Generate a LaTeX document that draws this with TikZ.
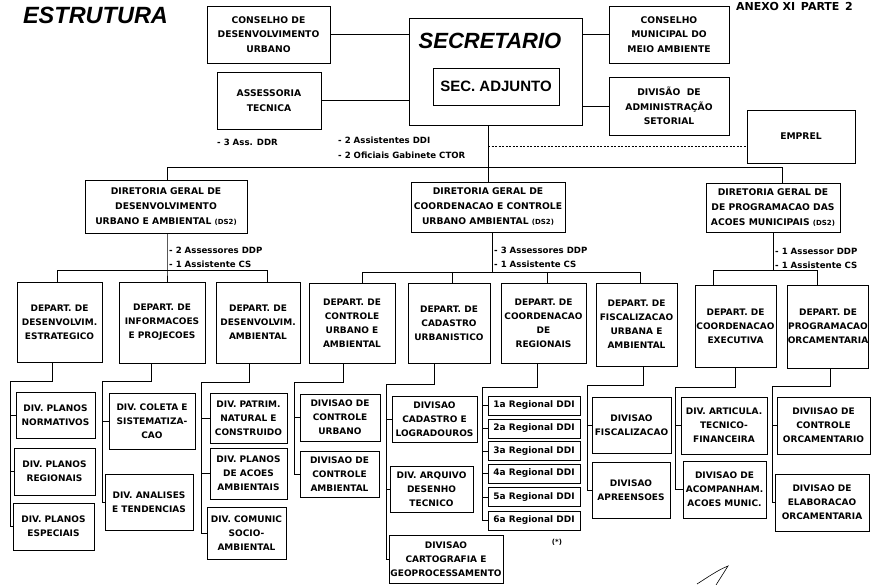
\documentclass[tikz,border=0pt]{standalone}
\usepackage{fontspec}
\setmainfont{DejaVu Sans}
\newfontfamily\TitleFam{Liberation Sans}
\newcommand\FBody{\fontsize{9}{14}\selectfont\bfseries}
\newcommand\FDir{\fontsize{9.2}{15}\selectfont\bfseries}
\newcommand\FTop{\fontsize{9.2}{14.5}\selectfont\bfseries}
\newcommand\FLbl{\fontsize{8.6}{10}\selectfont\bfseries}
\newcommand\FReg{\fontsize{9}{10}\selectfont\bfseries}
\tikzset{
  bx/.style={draw, line width=0.7pt, align=center, inner xsep=0.3pt, inner ysep=1pt, font=\FBody},
  sz/.style 2 args={minimum width=#1pt, minimum height=#2pt},
  ln/.style={line width=0.7pt},
  dotl/.style={line width=0.7pt, dash pattern=on 2pt off 1.5pt},
  lbl/.style={anchor=west, inner sep=0pt, font=\FLbl},
}
\begin{document}
\begin{tikzpicture}[x=1pt,y=-1pt]
\useasboundingbox (0,0) rectangle (873,585);
\fill[white] (0,0) rectangle (873,585);

% titles
\node[inner sep=0pt, font=\TitleFam\bfseries\itshape\fontsize{23.5}{26}\selectfont] (ttl) at (95.5,15.5) {ESTRUTURA};
\node[anchor=west, inner sep=0pt, font=\fontsize{11}{12}\selectfont\bfseries] (anx) at (736,6.5) {ANEXO XI\, PARTE\, 2};

% top level
\node[bx, sz={123}{57}, font=\FTop] (cdu) at (268.5,34.5) {CONSELHO DE\\DESENVOLVIMENTO\\URBANO};
\node[bx, sz={104}{57}, font=\FTop] (asst) at (269,100.5) {ASSESSORIA\\TECNICA};
\node[bx, sz={173}{107}] (sec) at (495.5,71.5) {};
\node[inner sep=0pt, font=\TitleFam\bfseries\itshape\fontsize{22}{24}\selectfont] (sect) at (490,41) {SECRETARIO};
\node[bx, sz={126}{37}, font=\TitleFam\bfseries\fontsize{15}{17}\selectfont] (adj) at (496,86.5) {SEC.\ ADJUNTO};
\node[bx, sz={120}{57}, font=\FTop] (cmma) at (669,34.5) {CONSELHO\\MUNICIPAL DO\\MEIO AMBIENTE};
\node[bx, sz={120}{58}, font=\FTop] (das) at (669,106) {DIVISÃO\ \ DE\\ADMINISTRAÇÃO\\SETORIAL};
\node[bx, sz={108}{53}, font=\FTop] (emp) at (801,136.5) {EMPREL};

\draw[ln] (cdu.east) -- (cdu.east -| sec.west);
\draw[ln] (asst.east) -- (asst.east -| sec.west);
\draw[ln] (cmma.west) -- (cmma.west -| sec.east);
\draw[ln] (das.west) -- (das.west -| sec.east);

\node[lbl] (l0) at (217,142) {- 3 Ass. DDR};
\node[lbl] (l1) at (338,140) {- 2 Assistentes DDI};
\node[lbl] (l2) at (338,155) {- 2 Oficiais Gabinete CTOR};

% diretorias
\node[bx, sz={162}{53}, font=\FDir] (dg1) at (166,206.5) {DIRETORIA GERAL DE\\DESENVOLVIMENTO\\URBANO E AMBIENTAL {\fontsize{7}{8}\selectfont(DS2)}};
\node[bx, sz={154}{50}, font=\FDir] (dg2) at (488,207) {DIRETORIA GERAL DE\\COORDENACAO E CONTROLE\\URBANO AMBIENTAL {\fontsize{7}{8}\selectfont(DS2)}};
\node[bx, sz={134}{49}, font=\FDir] (dg3) at (773,207.5) {DIRETORIA GERAL DE\\DE PROGRAMACAO DAS\\ACOES MUNICIPAIS {\fontsize{7}{8}\selectfont(DS2)}};

\coordinate (hub) at (488,167);
\coordinate (hl) at (167,167);
\coordinate (hr) at (782,167);
\coordinate (dt) at (488,146);
\draw[ln] (sec.south -| hub) -- (dg2.north -| hub);
\draw[ln] (dg1.north -| hl) -- (hl) -- (hr) -- (dg3.north -| hr);
\draw[dotl] (dt) -- (dt -| emp.west);

% departamentos
\node[bx, sz={85}{80}] (d1) at (59.5,322) {DEPART. DE\\DESENVOLVIM.\\ESTRATEGICO};
\node[bx, sz={86}{81}] (d2) at (162,322.5) {DEPART. DE\\INFORMACOES\\E PROJECOES};
\node[bx, sz={84}{81}] (d3) at (258,322.5) {DEPART. DE\\DESENVOLVIM.\\AMBIENTAL};
\node[bx, sz={86}{80}] (d4) at (352,323) {DEPART. DE\\CONTROLE\\URBANO E\\AMBIENTAL};
\node[bx, sz={82}{80}] (d5) at (449,323) {DEPART. DE\\CADASTRO\\URBANISTICO};
\node[bx, sz={85}{80}] (d6) at (543.5,323) {DEPART. DE\\COORDENACAO\\DE\\REGIONAIS};
\node[bx, sz={81}{83}] (d7) at (636.5,324.5) {DEPART. DE\\FISCALIZACAO\\URBANA E\\AMBIENTAL};
\node[bx, sz={81}{82}] (d8) at (735.5,326) {DEPART. DE\\COORDENACAO\\EXECUTIVA};
\node[bx, sz={80}{83}] (d9) at (828,326.5) {DEPART. DE\\PROGRAMACAO\\ORCAMENTARIA};

% group 1
\coordinate (g1) at (167,270);
\coordinate (g1l) at (57,270);
\coordinate (g1r) at (267,270);
\draw[ln] (dg1.south -| g1) -- (g1) -- (d2.north -| g1);
\draw[ln] (d1.north -| g1l) -- (g1l) -- (g1r) -- (d3.north -| g1r);
\node[lbl] (l3) at (169,250) {- 2 Assessores DDP};
\node[lbl] (l4) at (169,264) {- 1 Assistente CS};

% group 2
\coordinate (g2) at (492,272);
\coordinate (g2a) at (362,272);
\coordinate (g2b) at (452,272);
\coordinate (g2c) at (547,272);
\coordinate (g2d) at (640,272);
\draw[ln] (dg2.south -| g2) -- (g2);
\draw[ln] (d4.north -| g2a) -- (g2a) -- (g2d) -- (d7.north -| g2d);
\draw[ln] (g2b) -- (d5.north -| g2b);
\draw[ln] (g2c) -- (d6.north -| g2c);
\node[lbl] (l5) at (494,250) {- 3 Assessores DDP};
\node[lbl] (l6) at (494,264) {- 1 Assistente CS};

% group 3
\coordinate (g3) at (773,270);
\coordinate (g3a) at (713,270);
\coordinate (g3b) at (817,270);
\draw[ln] (dg3.south -| g3) -- (g3);
\draw[ln] (d8.north -| g3a) -- (g3a) -- (g3b) -- (d9.north -| g3b);
\node[lbl] (l7) at (775,251) {- 1 Assessor DDP};
\node[lbl] (l8) at (775,265) {- 1 Assistente CS};

% divisoes
\node[bx, sz={79}{46}] (v11) at (55.5,415) {DIV. PLANOS\\NORMATIVOS};
\node[bx, sz={81}{47}] (v12) at (54.5,471.5) {DIV. PLANOS\\REGIONAIS};
\node[bx, sz={81}{47}] (v13) at (53.5,526.5) {DIV. PLANOS\\ESPECIAIS};
\node[bx, sz={86}{56}] (v21) at (152,421) {DIV. COLETA E\\SISTEMATIZA-\\CAO};
\node[bx, sz={88}{56}] (v22) at (149,502) {DIV. ANALISES\\E TENDENCIAS};
\node[bx, sz={77}{50}] (v31) at (248.5,418) {DIV. PATRIM.\\NATURAL E\\CONSTRUIDO};
\node[bx, sz={77}{51}] (v32) at (248.5,473.5) {DIV. PLANOS\\DE ACOES\\AMBIENTAIS};
\node[bx, sz={79}{52}] (v33) at (246.5,533) {DIV. COMUNIC\\SOCIO-\\AMBIENTAL};
\node[bx, sz={80}{47}] (v41) at (340,417.5) {DIVISAO DE\\CONTROLE\\URBANO};
\node[bx, sz={79}{46}] (v42) at (339.5,474) {DIVISAO DE\\CONTROLE\\AMBIENTAL};
\node[bx, sz={85}{46}] (v51) at (434.5,419) {DIVISAO\\CADASTRO E\\LOGRADOUROS};
\node[bx, sz={83}{46}] (v52) at (431.5,489) {DIV. ARQUIVO\\DESENHO\\TECNICO};
\node[bx, sz={114}{48}] (v53) at (446,559) {DIVISAO\\CARTOGRAFIA E\\GEOPROCESSAMENTO};
\node[bx, sz={92}{19}, font=\FReg] (r1) at (534,405.5) {1a Regional DDI};
\node[bx, sz={92}{19}, font=\FReg] (r2) at (534,428.5) {2a Regional DDI};
\node[bx, sz={92}{19}, font=\FReg] (r3) at (534,451) {3a Regional DDI};
\node[bx, sz={92}{19}, font=\FReg] (r4) at (534,473.5) {4a Regional DDI};
\node[bx, sz={92}{19}, font=\FReg] (r5) at (534,497) {5a Regional DDI};
\node[bx, sz={92}{19}, font=\FReg] (r6) at (534,520.5) {6a Regional DDI};
\node[inner sep=0pt, font=\fontsize{7}{8}\selectfont\bfseries] (ast) at (557,542) {(*)};
\node[bx, sz={79}{56}] (v71) at (631.5,425) {DIVISAO\\FISCALIZACAO};
\node[bx, sz={78}{56}] (v72) at (631,490) {DIVISAO\\APREENSOES};
\node[bx, sz={86}{57}] (v81) at (724,425.5) {DIV. ARTICULA.\\TECNICO-\\FINANCEIRA};
\node[bx, sz={83}{57}] (v82) at (724.5,489.5) {DIVISAO DE\\ACOMPANHAM.\\ACOES MUNIC.};
\node[bx, sz={93}{57}] (v91) at (823.5,425.5) {DIVIISAO DE\\CONTROLE\\ORCAMENTARIO};
\node[bx, sz={94}{57}] (v92) at (822,502.5) {DIVISAO DE\\ELABORACAO\\ORCAMENTARIA};

% buses
\coordinate (k1a) at (52,381);  \coordinate (k1b) at (10,381);
\draw[ln] (d1.south -| k1a) -- (k1a) -- (k1b) |- (v13.west);
\draw[ln] (v11.west) -- (v11.west -| k1b);
\draw[ln] (v12.west) -- (v12.west -| k1b);

\coordinate (k2a) at (151,381); \coordinate (k2b) at (102,381);
\draw[ln] (d2.south -| k2a) -- (k2a) -- (k2b) |- (v22.west);
\draw[ln] (v21.west) -- (v21.west -| k2b);

\coordinate (k3a) at (249,382); \coordinate (k3b) at (201,382);
\draw[ln] (d3.south -| k3a) -- (k3a) -- (k3b) |- (v33.west);
\draw[ln] (v31.west) -- (v31.west -| k3b);
\draw[ln] (v32.west) -- (v32.west -| k3b);

\coordinate (k4a) at (343,382); \coordinate (k4b) at (294,382);
\draw[ln] (d4.south -| k4a) -- (k4a) -- (k4b) |- (v42.west);
\draw[ln] (v41.west) -- (v41.west -| k4b);

\coordinate (k5a) at (434,384); \coordinate (k5b) at (386,384);
\draw[ln] (d5.south -| k5a) -- (k5a) -- (k5b) |- (v53.west);
\draw[ln] (v51.west) -- (v51.west -| k5b);
\draw[ln] (v52.west) -- (v52.west -| k5b);

\coordinate (k6a) at (537,387); \coordinate (k6b) at (482,387);
\draw[ln] (d6.south -| k6a) -- (k6a) -- (k6b) |- (r6.west);
\foreach \r in {r1,r2,r3,r4,r5} \draw[ln] (\r.west) -- (\r.west -| k6b);

\coordinate (k7a) at (643,385); \coordinate (k7b) at (587,385);
\draw[ln] (d7.south -| k7a) -- (k7a) -- (k7b) |- (v72.west);
\draw[ln] (v71.west) -- (v71.west -| k7b);

\coordinate (k8a) at (735,387); \coordinate (k8b) at (675,387);
\draw[ln] (d8.south -| k8a) -- (k8a) -- (k8b) |- (v82.west);
\draw[ln] (v81.west) -- (v81.west -| k8b);

\coordinate (k9a) at (830,386); \coordinate (k9b) at (772,386);
\draw[ln] (d9.south -| k9a) -- (k9a) -- (k9b) |- (v92.west);
\draw[ln] (v91.west) -- (v91.west -| k9b);

% handwritten mark
\draw[line width=0.6pt] (697,584) .. controls (708,577) and (718,570) .. (728,566) -- (716,585);
\end{tikzpicture}
\end{document}
